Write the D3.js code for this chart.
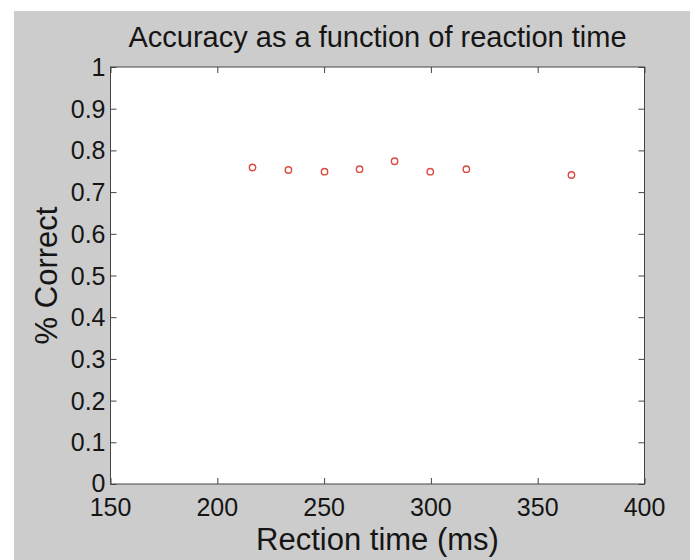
<!DOCTYPE html>
<html>
<head>
<meta charset="utf-8">
<script src="https://cdnjs.cloudflare.com/ajax/libs/d3/7.8.5/d3.min.js"></script>
<style>
body{margin:0;background:#fff;}
text{font-family:"Liberation Sans",Arial,Helvetica,sans-serif;fill:#151515;}
</style>
</head>
<body>
<div id="chart"></div>
<script>
var reactionTime = [216.5, 233.3, 250.2, 266.6, 283.0, 299.7, 316.6, 365.8];
var accuracy = [0.759, 0.753, 0.749, 0.755, 0.774, 0.749, 0.755, 0.741];
var xTicks = [150, 200, 250, 300, 350, 400];
var yTicks = [0, 0.1, 0.2, 0.3, 0.4, 0.5, 0.6, 0.7, 0.8, 0.9, 1];

function init(){

    var w=690;
    var h=560;
    var left=110.5, right=644.5, top=67, bottom=484;

    var svg= d3.select("#chart")
                .append("svg")
                .attr("width",w)
                .attr("height",h);

    // grey figure background (scan has a thin white edge top/left)
    svg.append("rect")
        .attr("x",14)
        .attr("y",11)
        .attr("width",w-14)
        .attr("height",h-11)
        .style("fill","#cccccc");

    var xScale=d3.scaleLinear()
                    .domain([150,400])
                    .range([left,right]);

    var yScale=d3.scaleLinear()
                    .domain([0,1])
                    .range([bottom,top]);

    svg.append("rect")
        .attr("x",left)
        .attr("y",top)
        .attr("width",right-left)
        .attr("height",bottom-top)
        .style("fill","#fff");

    // ticks inside the box, on all four sides
    var tickLen=6;
    var axisColor="#444";

    svg.append("g")
        .attr("transform","translate(0,"+bottom+")")
        .call(d3.axisBottom(xScale).tickValues(xTicks).tickSizeInner(-tickLen).tickSizeOuter(0).tickFormat(""));
    svg.append("g")
        .attr("transform","translate(0,"+top+")")
        .call(d3.axisTop(xScale).tickValues(xTicks).tickSizeInner(-tickLen).tickSizeOuter(0).tickFormat(""));
    svg.append("g")
        .attr("transform","translate("+left+",0)")
        .call(d3.axisLeft(yScale).tickValues(yTicks).tickSizeInner(-tickLen).tickSizeOuter(0).tickFormat(""));
    svg.append("g")
        .attr("transform","translate("+right+",0)")
        .call(d3.axisRight(yScale).tickValues(yTicks).tickSizeInner(-tickLen).tickSizeOuter(0).tickFormat(""));

    svg.selectAll(".domain").remove();
    svg.selectAll(".tick line").style("stroke",axisColor);

    svg.append("rect")
        .attr("x",left)
        .attr("y",top)
        .attr("width",right-left)
        .attr("height",bottom-top)
        .style("fill","none")
        .style("stroke",axisColor)
        .style("stroke-width",1);

    // tick labels
    svg.selectAll(".xlab")
        .data(xTicks)
        .enter()
        .append("text")
        .attr("x",d=>xScale(d))
        .attr("y",bottom+32)
        .attr("text-anchor","middle")
        .style("font-size","25px")
        .text(d=>d);

    svg.selectAll(".ylab")
        .data(yTicks)
        .enter()
        .append("text")
        .attr("x",left-5)
        .attr("y",d=>yScale(d)-(d===0?1:0))
        .attr("dy","0.36em")
        .attr("text-anchor","end")
        .style("font-size","25px")
        .text(d=>d3.format("~g")(d));

    svg.selectAll("circle")
        .data(reactionTime)
        .enter()
        .append("circle")
        .attr("cx",d=>xScale(d))
        .attr("cy",(d,i)=>yScale(accuracy[i]))
        .attr("r",3.2)
        .style("fill","none")
        .style("stroke","#dd4a42")
        .style("stroke-width",1.4);

    svg.append("text")
        .attr("x",(left+right)/2)
        .attr("y",47)
        .attr("text-anchor","middle")
        .style("font-size","29px")
        .text("Accuracy as a function of reaction time");

    svg.append("text")
        .attr("x",(left+right)/2)
        .attr("y",550)
        .attr("text-anchor","middle")
        .style("font-size","31px")
        .text("Rection time (ms)");

    svg.append("text")
        .attr("transform","translate(57,"+((top+bottom)/2)+") rotate(-90)")
        .attr("text-anchor","middle")
        .style("font-size","31px")
        .text("% Correct");

}
init();
</script>
</body>
</html>
